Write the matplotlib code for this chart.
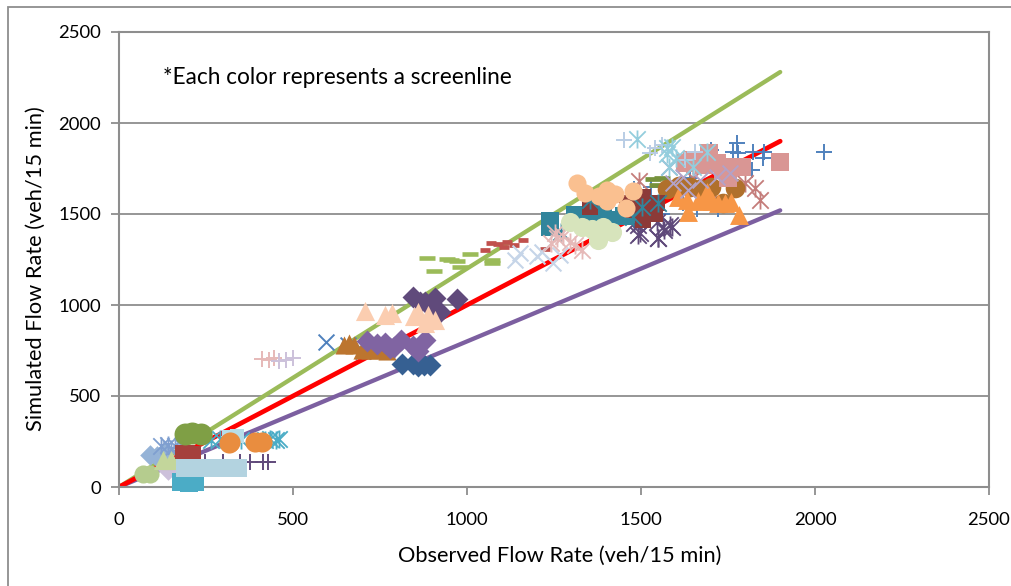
import matplotlib
matplotlib.use("Agg")
import matplotlib.pyplot as plt
from matplotlib.patches import Rectangle
from matplotlib.path import Path

plt.rcParams['font.family'] = ['Lato', 'DejaVu Sans']

x_ticks = [0, 500, 1000, 1500, 2000, 2500]
y_ticks = [0, 500, 1000, 1500, 2000, 2500]
x_title = "Observed Flow Rate (veh/15 min)"
y_title = "Simulated Flow Rate (veh/15 min)"
note = "*Each color represents a screenline"

line_x = [0, 1900]
upper_y = [0, 2280]
equal_y = [0, 1900]
lower_y = [0, 1520]

plus_blue_x = [2026, 1775, 1765, 1823, 1854, 1850, 1820, 1780, 1700, 1640, 1600, 1660, 1720, 1500, 1480, 1530, 1680, 1620, 1560]
plus_blue_y = [1841, 1890, 1842, 1841, 1841, 1810, 1742, 1835, 1850, 1700, 1620, 1530, 1530, 1600, 1640, 1650, 1770, 1560, 1500]
sq_pink_x = [1900, 1696, 1626, 1646, 1718, 1770, 1790, 1750, 1735, 1680]
sq_pink_y = [1786, 1834, 1780, 1797, 1780, 1760, 1760, 1697, 1740, 1770]
star_rose_x = [1494, 1799, 1827, 1842, 1700, 1650]
star_rose_y = [1681, 1670, 1643, 1577, 1620, 1700]
tri_orange_x = [1781, 1634, 1606, 1632, 1690, 1690, 1741, 1760, 1720, 1665, 1705]
tri_orange_y = [1495, 1510, 1594, 1577, 1594, 1620, 1560, 1566, 1560, 1570, 1570]
oval_brown_x = [1575, 1640, 1736, 1770, 1700, 1610, 1670]
oval_brown_y = [1640, 1650, 1560, 1643, 1650, 1655, 1640]
dash_olive_x = [1535, 1560, 1584, 1650, 1610, 1545]
dash_olive_y = [1692, 1700, 1640, 1630, 1670, 1660]
sq_maroon_x = [1353, 1506, 1525, 1506, 1460, 1545, 1480, 1540]
sq_maroon_y = [1538, 1593, 1538, 1467, 1560, 1560, 1520, 1500]
sq_teal_x = [1238, 1238, 1310, 1411, 1360, 1450, 1480, 1330, 1390]
sq_teal_y = [1430, 1460, 1495, 1467, 1510, 1490, 1500, 1470, 1500]
oval_peach_x = [1316, 1339, 1402, 1402, 1457, 1477, 1425, 1380]
oval_peach_y = [1670, 1615, 1632, 1570, 1533, 1626, 1610, 1600]
oval_sage_x = [1296, 1330, 1377, 1391, 1416, 1360]
oval_sage_y = [1456, 1430, 1357, 1430, 1401, 1420]
star_blush_x = [1258, 1253, 1275, 1330, 1310, 1295, 1240]
star_blush_y = [1368, 1395, 1380, 1302, 1330, 1345, 1340]
cross_pale_x = [1152, 1138, 1215, 1247, 1266, 1200]
cross_pale_y = [1285, 1247, 1291, 1230, 1275, 1270]
star_dark_x = [1497, 1563, 1549, 1590, 1480, 1491, 1491, 1549, 1546, 1583, 1565]
star_dark_y = [1395, 1430, 1368, 1430, 1450, 1440, 1385, 1368, 1456, 1440, 1410]
star_teal_x = [1353, 1503, 1549, 1477, 1270]
star_teal_y = [1577, 1538, 1560, 1483, 1400]
cross_lav_x = [1755, 1592, 1635, 1670, 1620, 1718, 1580]
cross_lav_y = [1725, 1670, 1632, 1686, 1703, 1703, 1760]
star_sky_x = [1488, 1574, 1590, 1690, 1650, 1575, 1580, 1600]
star_sky_y = [1912, 1862, 1870, 1840, 1760, 1830, 1760, 1810]
plus_pale_x = [1450, 1526, 1540, 1626, 1655, 1560]
plus_pale_y = [1906, 1834, 1862, 1797, 1840, 1880]
dash_green_x = [885, 942, 1008, 970, 905, 980, 1072, 1072, 955]
dash_green_y = [1258, 1253, 1280, 1240, 1187, 1210, 1247, 1230, 1245]
dash_red_x = [1070, 1090, 1052, 1115, 1160, 1135, 1225, 1105]
dash_red_y = [1340, 1335, 1302, 1345, 1355, 1330, 1310, 1320]
tri_peach_x = [707, 765, 785, 848, 860, 888, 908, 888, 880]
tri_peach_y = [967, 945, 955, 940, 960, 917, 917, 945, 900]
dia_plum_x = [845, 880, 908, 922, 972, 865, 895]
dia_plum_y = [1045, 1018, 1038, 962, 1034, 1015, 1000]
dia_violet_x = [713, 740, 765, 790, 810, 780, 845, 880, 860]
dia_violet_y = [800, 785, 790, 770, 808, 765, 775, 808, 750]
dia_navy_x = [813, 860, 894, 845, 875]
dia_navy_y = [676, 665, 670, 675, 672]
tri_brown_x = [647, 660, 675, 698, 740, 770, 720]
tri_brown_y = [780, 790, 780, 752, 752, 745, 755]
cross_blue_x = [595, 658, 700, 740, 770, 720]
cross_blue_y = [797, 780, 745, 750, 760, 755]
plus_rose_x = [410, 430, 445]
plus_rose_y = [705, 700, 710]
plus_mauve_x = [460, 480, 500]
plus_mauve_y = [690, 700, 710]
star_aqua_x = [265, 290, 350, 420, 435, 450, 460]
star_aqua_y = [260, 262, 258, 258, 262, 258, 262]
oval_moss_x = [190, 210, 235]
oval_moss_y = [290, 295, 291]
oval_amber_x = [316, 320, 390, 410]
oval_amber_y = [242, 248, 245, 245]
sq_mist_x = [315, 340]
sq_mist_y = [275, 280]
plus_grape_x = [247, 299, 348, 376, 414, 428]
plus_grape_y = [137, 137, 137, 137, 137, 137]
star_peri_x = [120, 140, 160, 180, 150]
star_peri_y = [225, 230, 228, 225, 210]
dia_peri_x = [89, 110, 130, 115]
dia_peri_y = [176, 170, 190, 155]
tri_sage_x = [126, 150, 170]
tri_sage_y = [148, 150, 155]
oval_sage2_x = [70, 90]
oval_sage2_y = [70, 72]
dia_lav_x = [140, 165, 185]
dia_lav_y = [93, 105, 100]
sq_red_x = [180, 198, 215]
sq_red_y = [190, 192, 188]
sq_ice_x = [191, 230, 265, 300, 343]
sq_ice_y = [102, 102, 105, 102, 105]
sq_cyan_x = [177, 200, 219]
sq_cyan_y = [25, 22, 25]

STAR = Path([(-1, -1), (1, 1), (-1, 1), (1, -1), (0, -1.1), (0, 1.1)],
            [Path.MOVETO, Path.LINETO, Path.MOVETO, Path.LINETO, Path.MOVETO, Path.LINETO])

fig = plt.figure(figsize=(10.11, 5.86), dpi=100)
W, H = 1011, 586
fig.patches.append(Rectangle((7.5 / W, -0.1), 1.2, 1 - 7 / H + 0.1, transform=fig.transFigure,
                             fill=False, ec='#8e8e8e', lw=1.3))
ax = fig.add_axes([119 / W, 1 - 487 / H, 870 / W, 455 / H])
ax.set_xlim(0, 2500)
ax.set_ylim(0, 2500)
ax.set_xticks(x_ticks)
ax.set_yticks(y_ticks)
ax.tick_params(labelsize=13.3, length=6, width=1.3, color='#8e8e8e', labelcolor='black')
ax.tick_params(axis='x', pad=12)
ax.tick_params(axis='y', pad=7)
for s in ax.spines.values():
    s.set_color('#8e8e8e')
    s.set_linewidth(1.5)
ax.grid(axis='y', color='#8e8e8e', lw=1.3)
ax.set_axisbelow(True)

ax.plot(line_x, upper_y, color='#9BBB59', lw=3.1, zorder=2, solid_capstyle='round')
ax.plot(line_x, lower_y, color='#7C5FA0', lw=3.1, zorder=2, solid_capstyle='round')
ax.plot(line_x, equal_y, color='#FF0000', lw=3.4, zorder=2.1, solid_capstyle='round')

series = [
    (oval_sage2_x, oval_sage2_y, 'o', '#B5CC8E', 170, 0),
    (dia_peri_x, dia_peri_y, 'D', '#95B3D7', 110, 0),
    (star_peri_x, star_peri_y, '*', '#7F9FD0', 0, 1.3),
    (plus_rose_x, plus_rose_y, '+', '#E6B9B8', 117, 1.4),
    (plus_mauve_x, plus_mauve_y, '+', '#CCC1DA', 117, 1.4),
    (dia_lav_x, dia_lav_y, 'D', '#CCC0DA', 110, 0),
    (tri_sage_x, tri_sage_y, '^', '#C3D69B', 190, 0),
    (sq_cyan_x, sq_cyan_y, 's', '#4BACC6', 150, 0),
    (star_aqua_x, star_aqua_y, '*', '#4BACC6', 0, 1.3),
    (sq_mist_x, sq_mist_y, 's', '#B7DEE8', 100, 0),
    (plus_grape_x, plus_grape_y, '+', '#604A7B', 117, 1.4),
    (sq_red_x, sq_red_y, 's', '#A5403C', 100, 0),
    (oval_moss_x, oval_moss_y, 'o', '#7F9F45', 250, 0),
    (oval_amber_x, oval_amber_y, 'o', '#E98D3F', 210, 0),
    (sq_ice_x, sq_ice_y, 's', '#B3D3E0', 150, 0),
    (plus_blue_x, plus_blue_y, '+', '#4F81BD', 117, 1.4),
    (star_rose_x, star_rose_y, '*', '#C47C7A', 0, 1.3),
    (star_dark_x, star_dark_y, '*', '#5F497A', 0, 1.3),
    (cross_blue_x, cross_blue_y, 'x', '#4F81BD', 130, 1.4),
    (tri_brown_x, tri_brown_y, '^', '#BC752F', 170, 0),
    (dia_navy_x, dia_navy_y, 'D', '#366092', 125, 0),
    (dia_violet_x, dia_violet_y, 'D', '#8064A2', 125, 0),
    (dia_plum_x, dia_plum_y, 'D', '#604A7B', 125, 0),
    (tri_peach_x, tri_peach_y, '^', '#FBCDB0', 190, 0),
    (dash_green_x, dash_green_y, '_', '#9BBB59', 133, 3.3),
    (dash_red_x, dash_red_y, '_', '#C0504D', 60, 3.4),
    (dash_olive_x, dash_olive_y, '_', '#76923C', 133, 3.4),
    (oval_brown_x, oval_brown_y, 'o', '#B0702C', 200, 0),
    (sq_teal_x, sq_teal_y, 's', '#31859C', 170, 0),
    (sq_maroon_x, sq_maroon_y, 's', '#8C3A38', 130, 0),
    (star_teal_x, star_teal_y, '*', '#31859C', 0, 1.3),
    (cross_pale_x, cross_pale_y, 'x', '#C6D5E8', 130, 1.5),
    (star_blush_x, star_blush_y, '*', '#E6B9B8', 0, 1.3),
    (oval_sage_x, oval_sage_y, 'o', '#D7E4BC', 190, 0),
    (oval_peach_x, oval_peach_y, 'o', '#FAC090', 170, 0),
    (sq_pink_x, sq_pink_y, 's', '#D99694', 150, 0),
    (tri_orange_x, tri_orange_y, '^', '#F79646', 185, 0),
    (cross_lav_x, cross_lav_y, 'x', '#B3A2C7', 130, 1.4),
    (plus_pale_x, plus_pale_y, '+', '#B9CDE5', 117, 1.4),
    (star_sky_x, star_sky_y, '*', '#93CDDD', 0, 1.3),
]
z = 3
for xs, ys, m, c, s, lw in series:
    if m == '*':
        ax.plot(xs, ys, ls='none', marker=STAR, ms=13, mec=c, mew=lw, zorder=z, clip_on=False)
    elif m in ('+', 'x', '_'):
        ax.scatter(xs, ys, marker=m, s=s, color=c, linewidths=lw, zorder=z, clip_on=False)
    else:
        ax.scatter(xs, ys, marker=m, s=s, color=c, linewidths=0, zorder=z, clip_on=False)
    z += 1

fig.text(163 / W, 1 - 78 / H, note, fontsize=16.3, va='center', ha='left', color='black')
fig.text(559.5 / W, 1 - 556 / H, x_title, fontsize=15.7, ha='center', va='center')
fig.text(36 / W, 1 - 269 / H, y_title, fontsize=15.7, ha='center', va='center', rotation=90)
fig.savefig('out.png', dpi=100)
